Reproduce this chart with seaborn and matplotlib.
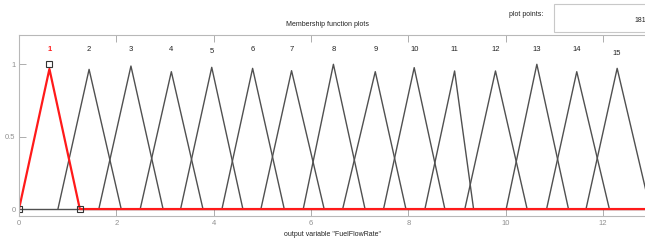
import matplotlib
matplotlib.use("Agg")
import matplotlib.pyplot as plt
import seaborn as sns
import pandas as pd
from matplotlib.patches import Rectangle

# ---- data ----
mf_names = ["1", "2", "3", "4", "5", "6", "7", "8", "9", "10", "11", "12", "13", "14", "15"]
mf_left = [0.0, 0.80, 1.64, 2.49, 3.32, 4.17, 4.97, 5.84, 6.65, 7.49, 8.34, 9.16, 10.01, 10.84, 11.65]
mf_peak = [0.625, 1.44, 2.30, 3.13, 3.96, 4.80, 5.60, 6.46, 7.32, 8.12, 8.95, 9.79, 10.64, 11.46, 12.29]
mf_right = [1.25, 2.10, 2.96, 3.78, 4.60, 5.45, 6.27, 7.11, 7.95, 8.75, 9.34, 10.44, 11.29, 12.13, 12.97]
mf_height = [0.966, 0.963, 0.986, 0.947, 0.977, 0.970, 0.954, 0.998, 0.947, 0.975, 0.952, 0.952, 0.998, 0.947, 0.970]
label_y = [1.10, 1.10, 1.10, 1.10, 1.085, 1.10, 1.10, 1.10, 1.10, 1.10, 1.10, 1.10, 1.10, 1.10, 1.075]
selected = 0
x_range = [0.0, 13.0]
x_ticks = [0, 2, 4, 6, 8, 10, 12]
y_ticks = [0, 0.5, 1]
y_ticklabels = ["0", "0.5", "1"]
plot_points = "181"

sns.set_theme(style="white")
plt.rcParams["font.family"] = ["Liberation Sans", "DejaVu Sans"]

W, H = 645, 240
fig = plt.figure(figsize=(W / 100, H / 100), dpi=100)
fig.patch.set_facecolor("white")

x0_px, x1_px = 19.0, 19.0 + 13.0 * 48.67
ytop_px, ybot_px = 35.0, 216.3
ax = fig.add_axes([x0_px / W, (H - ybot_px) / H, (x1_px - x0_px) / W, (ybot_px - ytop_px) / H])

gray = "#a0a0a0"
black = "#505050"
red = "#ff1a1a"

# baseline (zero parts of the non-selected functions)
base = pd.DataFrame({"x": x_range, "y": [0, 0]})
sns.lineplot(data=base, x="x", y="y", ax=ax, color=black, lw=1.0, estimator=None, sort=False)

for i in range(len(mf_names)):
    if i == selected:
        continue
    df = pd.DataFrame({"x": [mf_left[i], mf_peak[i], mf_right[i]],
                       "y": [0, mf_height[i], 0]})
    sns.lineplot(data=df, x="x", y="y", ax=ax, color=black, lw=1.0, estimator=None, sort=False)

# selected function in red, including its zero part
i = selected
df = pd.DataFrame({"x": [mf_left[i], mf_peak[i], mf_right[i], x_range[1]],
                   "y": [0, mf_height[i], 0, 0]})
sns.lineplot(data=df, x="x", y="y", ax=ax, color=red, lw=1.6, estimator=None, sort=False)
sq = pd.DataFrame({"x": [mf_left[i], mf_peak[i], mf_right[i]], "y": [0, 1, 0]})
ax.plot(sq["x"], sq["y"], ls="none", marker="s", ms=5, mfc="none", mec="#333333", mew=0.8)

for i, name in enumerate(mf_names):
    ax.text(mf_peak[i], label_y[i], name, ha="center", va="center", fontsize=5.5,
            color=red if i == selected else "#222222", fontweight="bold" if i == selected else "normal")

ax.set_xlim(x_range)
ax.set_ylim(-0.05, 1.2)
ax.set_xticks(x_ticks)
ax.set_xticklabels([str(t) for t in x_ticks])
ax.set_yticks(y_ticks)
ax.set_yticklabels(y_ticklabels)
ax.tick_params(axis="both", direction="in", length=5, width=0.6, color=gray,
               labelcolor="#909090", labelsize=5.5, top=True, right=True,
               bottom=True, left=True)
ax.tick_params(axis="x", pad=3)
ax.tick_params(axis="y", pad=2.5)
ax.set_xlabel("")
ax.set_ylabel("")
for s in ax.spines.values():
    s.set_color("#b8b8b8")
    s.set_linewidth(0.8)

fig.text(327 / W, 1 - 24 / H, "Membership function plots", ha="center", va="center",
         fontsize=5, color="#222222")
fig.text(333 / W, 1 - 234 / H, 'output variable "FuelFlowRate"', ha="center", va="center",
         fontsize=5, color="#222222")
fig.text(526 / W, 1 - 15 / H, "plot points:", ha="center", va="center", fontsize=5, color="#222222")
fig.patches.append(Rectangle((554 / W, 1 - 32 / H), 100 / W, 28 / H, transform=fig.transFigure,
                             facecolor="white", edgecolor="#c8c8c8", lw=0.8))
fig.text(646 / W, 1 - 20 / H, plot_points, ha="right", va="center", fontsize=5, color="#222222")

fig.savefig("out.png", dpi=100)
